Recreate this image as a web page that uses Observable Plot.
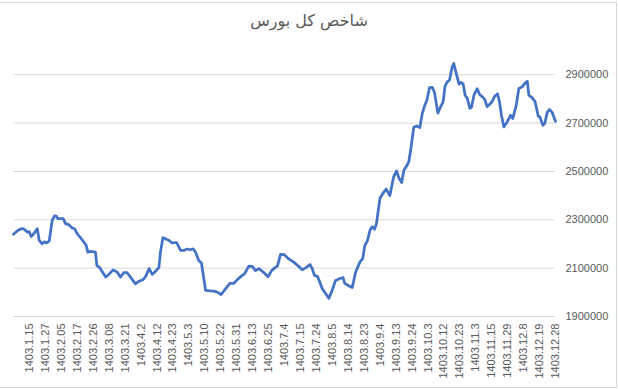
<!DOCTYPE html>
<html><head><meta charset="utf-8">
<script src="https://cdn.jsdelivr.net/npm/d3@7"></script>
<script src="https://cdn.jsdelivr.net/npm/@observablehq/plot@0.6"></script>
<style>
body{margin:0;background:#fff}
#chart{position:relative;width:618px;height:389px;overflow:hidden}
#title{position:absolute;top:11px;left:0;width:618px;text-align:center;font:16px "DejaVu Sans",sans-serif;color:#595959;direction:rtl}
#frame{position:absolute;left:-2px;top:2px;width:617px;height:384px;border:1px solid #d9d9d9;pointer-events:none}
svg{position:absolute;left:0;top:0}
</style></head><body>
<div id="chart"><div id="frame"></div><div id="title">شاخص کل بورس</div></div>
<script>
const pos = [0,0.27,0.48,0.65,0.86,0.98,1.11,1.27,1.49,1.61,1.80,1.96,2.07,2.24,2.43,2.59,2.70,2.78,3.12,3.26,3.47,3.68,3.83,4.00,4.20,4.41,4.56,4.66,4.83,5.14,5.23,5.41,5.63,5.79,5.98,6.25,6.51,6.71,6.92,7.13,7.34,7.65,7.86,8.14,8.30,8.51,8.70,8.85,9.12,9.22,9.37,9.58,9.74,9.96,10.23,10.48,10.68,10.90,11.10,11.27,11.42,11.62,11.79,12.05,12.36,12.57,12.78,13.03,13.30,13.57,13.82,14.05,14.27,14.49,14.76,14.98,15.18,15.40,15.68,15.97,16.17,16.37,16.56,16.75,16.97,17.27,17.58,17.90,18.11,18.35,18.60,18.74,18.88,19.07,19.37,19.57,19.78,19.99,20.20,20.45,20.67,20.78,21.05,21.25,21.46,21.73,21.91,22.04,22.19,22.37,22.50,22.65,22.77,22.99,23.19,23.38,23.61,23.84,24.03,24.17,24.35,24.49,24.69,24.80,24.95,25.11,25.28,25.49,25.64,25.78,25.93,26.10,26.27,26.41,26.62,26.79,26.95,27.07,27.21,27.35,27.52,27.62,27.79,27.95,28.09,28.21,28.33,28.46,28.63,28.73,28.89,29.09,29.25,29.42,29.57,29.71,29.86,30.02,30.19,30.36,30.49,30.61,30.76,30.97,31.18,31.32,31.54,31.70,31.91,32.08,32.23,32.33,32.54,32.71,32.92,33.02,33.21,33.33,33.48,33.62,33.79,34];
const value = [2240000,2256000,2263000,2262000,2249000,2251000,2231000,2242000,2263000,2215000,2201000,2209000,2204000,2212000,2298000,2317000,2314000,2305000,2305000,2284000,2280000,2266000,2263000,2242000,2226000,2208000,2194000,2166000,2169000,2166000,2111000,2102000,2079000,2063000,2074000,2093000,2083000,2063000,2081000,2081000,2063000,2035000,2045000,2053000,2067000,2098000,2074000,2083000,2102000,2166000,2226000,2220000,2215000,2204000,2206000,2173000,2173000,2179000,2176000,2180000,2166000,2132000,2121000,2008000,2006000,2005000,2001000,1991000,2014000,2037000,2037000,2053000,2066000,2076000,2108000,2107000,2090000,2098000,2083000,2064000,2088000,2100000,2109000,2157000,2156000,2138000,2125000,2107000,2093000,2102000,2115000,2098000,2070000,2066000,2015000,1996000,1975000,2008000,2049000,2056000,2061000,2037000,2026000,2020000,2083000,2125000,2140000,2194000,2211000,2258000,2271000,2261000,2285000,2389000,2411000,2427000,2400000,2476000,2502000,2474000,2454000,2505000,2525000,2541000,2604000,2683000,2688000,2681000,2739000,2770000,2794000,2847000,2848000,2826000,2741000,2767000,2787000,2852000,2870000,2877000,2933000,2946000,2900000,2861000,2868000,2861000,2815000,2803000,2761000,2765000,2817000,2842000,2817000,2808000,2797000,2768000,2777000,2788000,2811000,2821000,2787000,2732000,2684000,2705000,2732000,2719000,2774000,2843000,2850000,2864000,2873000,2815000,2804000,2790000,2728000,2725000,2691000,2698000,2744000,2756000,2744000,2707000];
const tickLabels = ["1403.1.15","1403.1.27","1403.2.05","1403.2.17","1403.2.26","1403.3.08","1403.3.21","1403.4.2","1403.4.12","1403.4.23","1403.5.3","1403.5.10","1403.5.22","1403.5.31","1403.6.13","1403.6.25","1403.7.4","1403.7.15","1403.7.24","1403.8.5","1403.8.14","1403.8.23","1403.9.4","1403.9.13","1403.9.24","1403.10.3","1403.10.12","1403.10.23","1403.11.3","1403.11.15","1403.11.29","1403.12.8","1403.12.19","1403.12.28"];
const yTicks = [1900000,2100000,2300000,2500000,2700000,2900000];

const data = pos.map((p, i) => ({p, v: value[i]}));
const tickPos = tickLabels.map((_, i) => i + 1);

const plot = Plot.plot({
  width: 618, height: 389,
  marginLeft: 13, marginRight: 63, marginTop: 50, marginBottom: 73,
  x: {domain: [0, 34], axis: null},
  y: {domain: [1900000, 3000000], axis: null},
  style: {fontFamily: "'Liberation Sans', Arial, sans-serif", fontSize: "11px", color: "#595959", background: "transparent"},
  marks: [
    Plot.gridY(yTicks, {stroke: "#d9d9d9", strokeOpacity: 1, strokeWidth: 1}),
    Plot.axisY(yTicks, {anchor: "right", tickSize: 0, tickPadding: 10, tickFormat: d => String(d), fill: "#595959", label: null}),
    Plot.axisX(tickPos, {anchor: "bottom", tickSize: 0, tickPadding: 7, tickRotate: -90, tickFormat: d => tickLabels[d - 1], fill: "#595959", label: null}),
    Plot.line(data, {x: "p", y: "v", stroke: "#4472C4", strokeWidth: 2.75, strokeLinejoin: "round"})
  ]
});
document.getElementById("chart").appendChild(plot);
</script>
</body></html>
